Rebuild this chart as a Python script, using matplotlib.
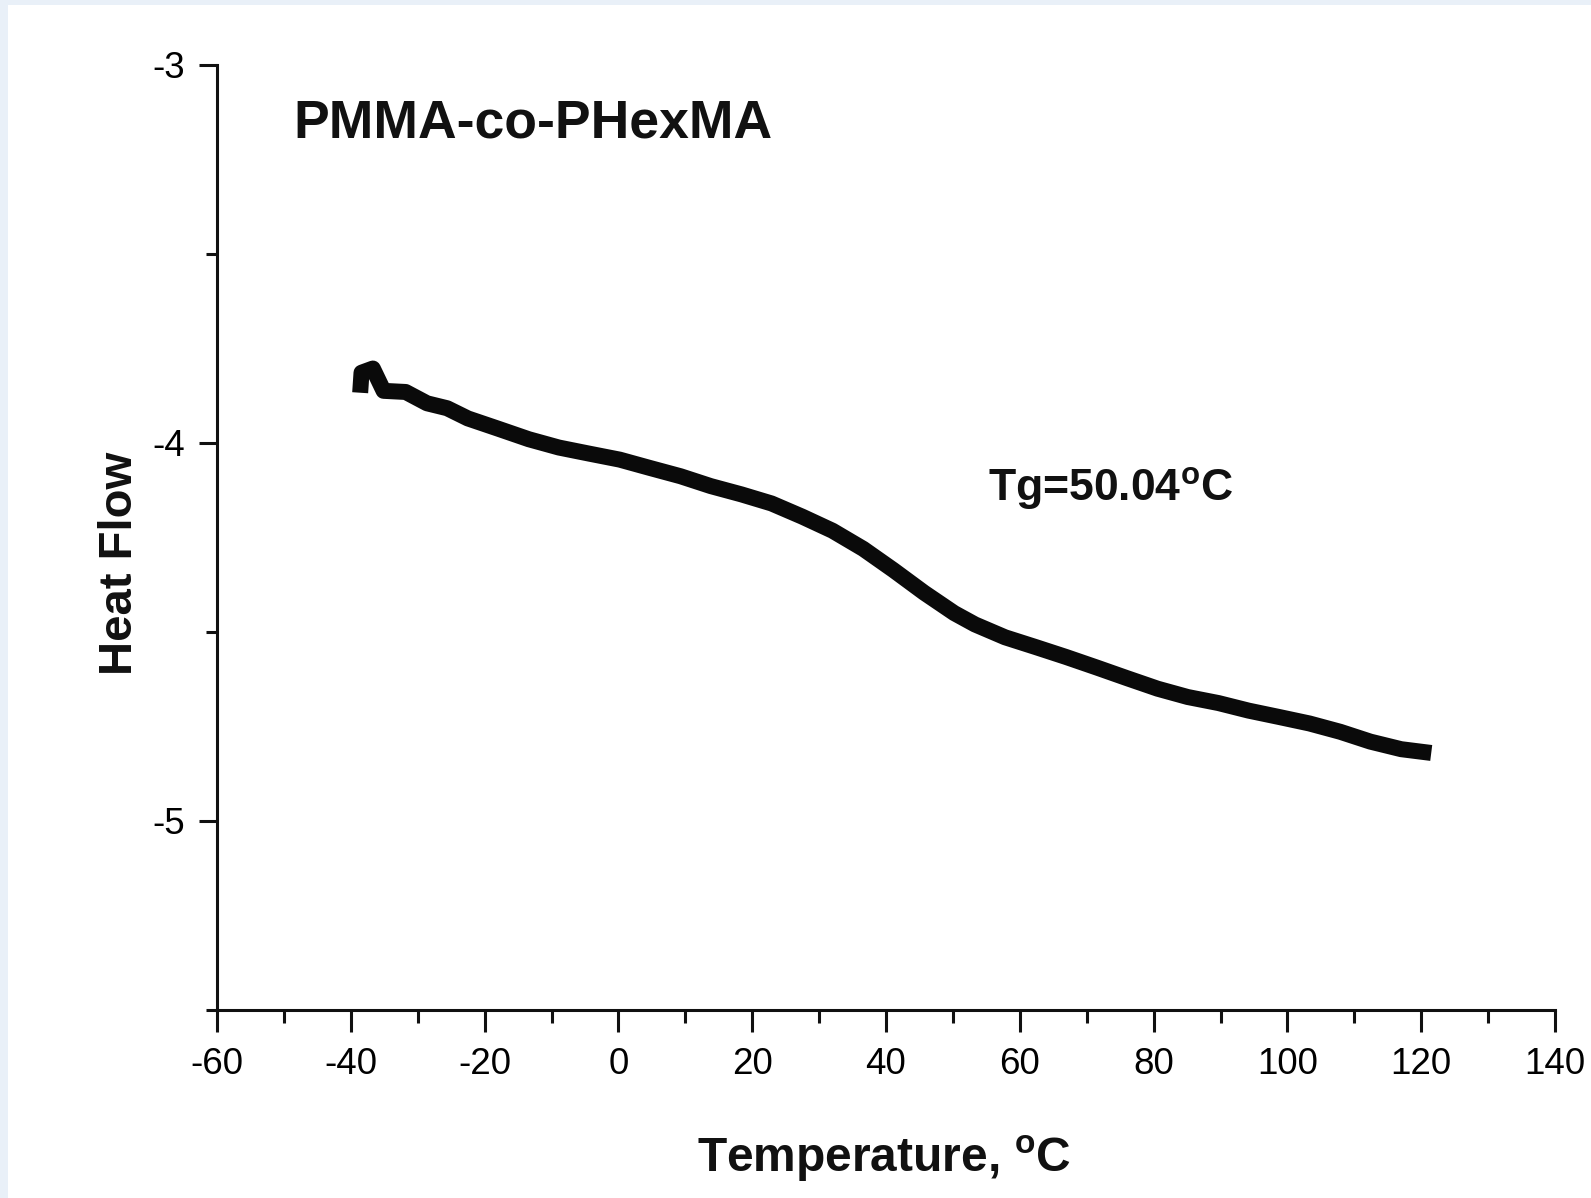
import matplotlib
matplotlib.use("Agg")
import matplotlib.pyplot as plt
from matplotlib.patches import Rectangle
from matplotlib.ticker import MultipleLocator

plt.rcParams['font.family'] = ['Liberation Sans', 'DejaVu Sans']
plt.rcParams['mathtext.fontset'] = 'custom'
plt.rcParams['mathtext.rm'] = 'Liberation Sans:bold'
plt.rcParams['mathtext.bf'] = 'Liberation Sans:bold'

# Data
temperature = [-38.6, -38.4, -36.7, -35.1, -31.8, -28.6, -25.6, -22.5, -18.0, -13.4,
               -8.9, -4.4, 0.2, 4.7, 9.3, 13.8, 18.4, 22.9, 27.5, 32.0,
               36.6, 41.1, 45.7, 50.2, 53.3, 57.8, 62.4, 66.9, 71.5, 76.0,
               80.6, 85.1, 89.7, 94.2, 98.8, 103.3, 107.9, 112.4, 117.0, 121.5]
heat_flow = [-3.867, -3.814, -3.803, -3.862, -3.865, -3.895, -3.908, -3.935, -3.962, -3.990,
             -4.012, -4.028, -4.044, -4.066, -4.088, -4.114, -4.136, -4.160, -4.195, -4.232,
             -4.280, -4.336, -4.396, -4.450, -4.480, -4.514, -4.540, -4.566, -4.594, -4.622,
             -4.650, -4.672, -4.688, -4.708, -4.725, -4.742, -4.764, -4.790, -4.810, -4.820]

x_ticks = [-60, -40, -20, 0, 20, 40, 60, 80, 100, 120, 140]
y_ticks = [-3, -4, -5]
title_text = "PMMA-co-PHexMA"
tg_text = r"Tg=50.04$^{\mathrm{o}}$C"
x_label = r"Temperature, $^{\mathrm{o}}$C"
y_label = "Heat Flow"

W, H = 1591, 1198
fig = plt.figure(figsize=(W / 100, H / 100), dpi=100, facecolor='white')
# light scan border on the left and top edges
fig.patches.append(Rectangle((0, 0), 8 / W, 1, transform=fig.transFigure,
                             facecolor='#e9f0f8', edgecolor='none', zorder=-10))
fig.patches.append(Rectangle((0, 1 - 5 / H), 1, 5 / H, transform=fig.transFigure,
                             facecolor='#e9f0f8', edgecolor='none', zorder=-10))

left, right, top, bottom = 217, 1555, 65, 1010
ax = fig.add_axes([left / W, 1 - bottom / H, (right - left) / W, (bottom - top) / H])
ax.set_facecolor('none')

ax.plot(temperature, heat_flow, color='#0a0a0a', lw=11.5, solid_joinstyle='round',
        solid_capstyle='butt')

ax.set_xlim(-60, 140)
ax.set_ylim(-5.5, -3)
ax.set_xticks(x_ticks)
ax.set_xticklabels([str(v) for v in x_ticks])
ax.set_yticks(y_ticks)
ax.set_yticklabels([str(v) for v in y_ticks])
ax.xaxis.set_minor_locator(MultipleLocator(10))
ax.yaxis.set_minor_locator(MultipleLocator(0.5))

for s in ['top', 'right']:
    ax.spines[s].set_visible(False)
for s in ['left', 'bottom']:
    ax.spines[s].set_linewidth(2.2)
    ax.spines[s].set_color('#111111')

ax.tick_params(axis='x', which='major', direction='out', length=16, width=2.2,
               labelsize=26.5, pad=11, color='#111111')
ax.tick_params(axis='x', which='minor', direction='out', length=9, width=2.2, color='#111111')
ax.tick_params(axis='y', which='major', direction='out', length=13, width=2.2,
               labelsize=26.5, pad=10, color='#111111')
ax.tick_params(axis='y', which='minor', direction='out', length=8, width=2.2, color='#111111')

ax.text(-48.6, -3.191, title_text, fontsize=38.5, fontweight='bold', ha='left',
        va='baseline', color='#111111')
ax.text(55.3, -4.154, tg_text, fontsize=32, fontweight='bold', ha='left',
        va='baseline', color='#111111')

fig.text(884 / W, 1 - 1172 / H, x_label, fontsize=34.5, fontweight='bold', ha='center',
         va='baseline', color='#111111')
fig.text(120 / W, 1 - 563 / H, y_label, fontsize=34, fontweight='bold', ha='center',
         va='center', rotation=90, color='#111111')

fig.savefig('out.png', dpi=100, facecolor=fig.get_facecolor())
